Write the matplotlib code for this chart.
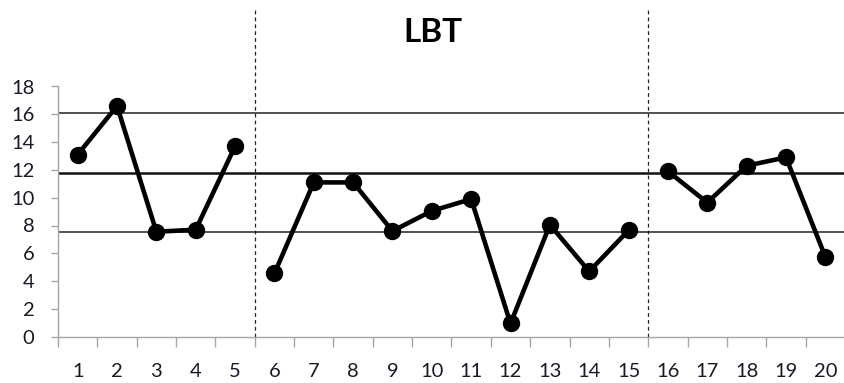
import matplotlib
matplotlib.use("Agg")
import matplotlib.pyplot as plt
import numpy as np

plt.rcParams['font.family'] = ['Lato', 'DejaVu Sans']

sessions = list(range(1, 21))
values = [13.1, 16.6, 7.55, 7.7, 13.7, 4.55, 11.1, 11.1, 7.6, 9.05,
          9.9, 0.95, 8.05, 4.7, 7.65, 11.9, 9.65, 12.3, 12.9, 5.75]
upper_limit = 16.1
mean_line = 11.75
lower_limit = 7.55
phase_breaks = [5.5, 15.5]
title = "LBT"
yticks = list(range(0, 19, 2))

fig = plt.figure(figsize=(8.45, 3.83), dpi=100)
ax = fig.add_axes([58/845, 46.3/383, 787/845, 326.7/383])

ax.set_xlim(0.5, 20.5)
ymax = 326.7 / 13.9
ax.set_ylim(0, ymax)

# reference lines
ax.axhline(upper_limit, color='#333333', lw=1.2, zorder=1)
ax.axhline(mean_line, color='#111111', lw=1.8, zorder=1)
ax.axhline(lower_limit, color='#333333', lw=1.2, zorder=1)

# phase change lines
for xb in phase_breaks:
    ax.axvline(xb, color='#222222', lw=0.9, ls=(0, (3, 2.5)), zorder=1)

# data series, broken at each phase change
segments = [(0, 5), (5, 15), (15, 20)]
for a, b in segments:
    ax.plot(sessions[a:b], values[a:b], color='black', lw=3.3, marker='o',
            markersize=11.5, zorder=3)

# spines
for s in ['top', 'right']:
    ax.spines[s].set_visible(False)
ax.spines['left'].set_color('#a6a6a6')
ax.spines['bottom'].set_color('#a6a6a6')
ax.spines['left'].set_bounds(0, 18)
ax.spines['left'].set_linewidth(1.0)
ax.spines['bottom'].set_linewidth(1.0)

ax.set_yticks(yticks)
ax.set_yticklabels([str(t) for t in yticks])
ax.tick_params(axis='y', length=5, width=1.0, color='#a6a6a6', pad=12,
               labelsize=14.5, labelcolor='#1a1a26')

ax.set_xticks(sessions)
ax.set_xticklabels([str(s) for s in sessions])
ax.set_xticks(np.arange(0.5, 20.6, 1), minor=True)
ax.tick_params(axis='x', which='major', length=0, pad=19, labelsize=14.5,
               labelcolor='#1a1a26')
ax.tick_params(axis='x', which='minor', length=7, width=1.0, color='#a6a6a6')

fig.text(433/845, 1 - 33/383, title, ha='center', va='center',
         fontsize=24, fontweight='bold', color='black')

fig.savefig('out.png', dpi=100)
